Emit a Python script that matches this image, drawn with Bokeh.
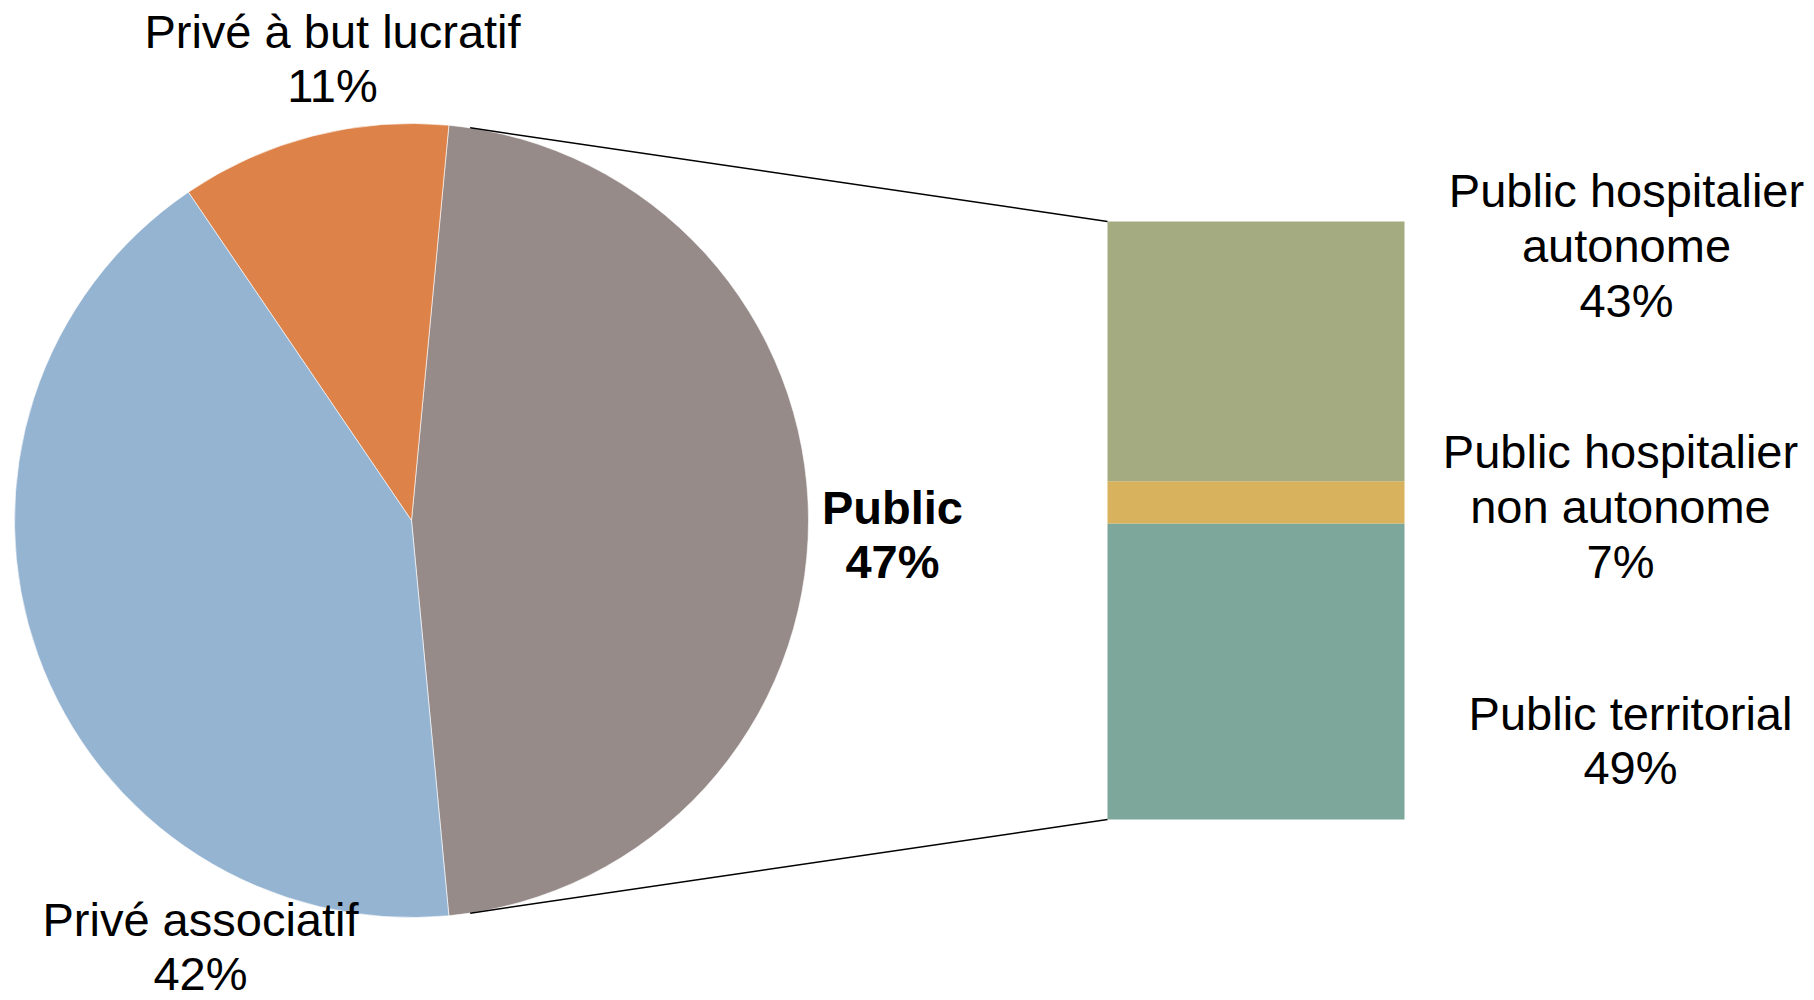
import numpy as np
from bokeh.plotting import figure
from bokeh.models import Range1d, ColumnDataSource
from bokeh.core.properties import value
from bokeh.embed import file_html
from bokeh.resources import INLINE

# ---------------- data ----------------
pie_categories = ["Public", "Privé à but lucratif", "Privé associatif"]
pie_values = [47, 11, 42]
pie_colors = ["#968B89", "#DD8248", "#95B4D2"]

# sub-bar (bottom to top)
bar_categories = ["Public territorial", "Public hospitalier non autonome", "Public hospitalier autonome"]
bar_values = [49, 7, 43]
bar_colors = ["#7EA79C", "#D8B25C", "#A4AB81"]
bar_label_lines = ["Public territorial", "Public hospitalier\nnon autonome", "Public hospitalier\nautonome"]
pie_label_lines = ["Public", "Privé à but lucratif", "Privé associatif"]

# ---------------- layout ----------------
W, H = 1814, 1000
cx, cy, R = 411, 480, 397
bar_left, bar_right = 1107, 1404
bar_bottom, bar_top = 181, 779

pie_label_x = [892, 332, 200]
pie_label_y = [466, 942, 54]
bar_label_x = [1630, 1620, 1626]
bar_label_y = [260, 494, 755]

FONT = "Liberation Sans"
FS = "47px"
LH = 1.03

p = figure(width=W, height=H, output_backend="svg", toolbar_location=None,
           x_range=Range1d(0, W), y_range=Range1d(0, H),
           x_axis_type=None, y_axis_type=None, min_border=0,
           outline_line_color=None, background_fill_color="white",
           border_fill_color="white")
p.grid.visible = False

# pie: first slice centred on 3 o'clock, then counter-clockwise
vals = np.array(pie_values, dtype=float)
angles = vals / vals.sum() * 2 * np.pi
start0 = -angles[0] / 2
starts = start0 + np.concatenate([[0], np.cumsum(angles)[:-1]])
ends = starts + angles
pie_src = ColumnDataSource(dict(start=starts, end=ends, color=pie_colors, cat=pie_categories))
p.wedge(x=cx, y=cy, radius=R, start_angle="start", end_angle="end", direction="anticlock",
        fill_color="color", line_color="white", line_width=0.6, source=pie_src)

# stacked bar of the Public slice
bv = np.array(bar_values, dtype=float)
unit = (bar_top - bar_bottom) / bv.sum()
tops = bar_bottom + np.cumsum(bv) * unit
bottoms = tops - bv * unit
bar_src = ColumnDataSource(dict(left=[bar_left] * 3, right=[bar_right] * 3,
                                bottom=bottoms, top=tops, color=bar_colors, cat=bar_categories))
p.quad(left="left", right="right", bottom="bottom", top="top", fill_color="color",
       line_color=None, source=bar_src)

# connector lines
off = 0.054
a_top = ends[0] - off
a_bot = starts[0] + off
p.segment(x0=[cx + R * np.cos(a_top), cx + R * np.cos(a_bot)],
          y0=[cy + R * np.sin(a_top), cy + R * np.sin(a_bot)],
          x1=[bar_left, bar_left], y1=[tops[-1], bottoms[0]],
          line_color="black", line_width=1.5)

# labels
pie_texts = [f"{c}\n{v}%" for c, v in zip(pie_label_lines, pie_values)]
p.text(x=pie_label_x[1:], y=pie_label_y[1:], text=pie_texts[1:],
       text_font=value(FONT), text_font_size=FS, text_align="center",
       text_baseline="middle", text_line_height=LH, text_color="black")
p.text(x=pie_label_x[:1], y=pie_label_y[:1], text=pie_texts[:1],
       text_font=value(FONT), text_font_size=FS, text_font_style="bold",
       text_align="center", text_baseline="middle", text_line_height=LH, text_color="black")

bar_texts = [f"{c}\n{v}%" for c, v in zip(bar_label_lines, bar_values)]
p.text(x=bar_label_x, y=bar_label_y, text=bar_texts,
       text_font=value(FONT), text_font_size=FS, text_align="center",
       text_baseline="middle", text_line_height=LH, text_color="black")

open("out.html", "w").write(file_html(p, INLINE))
